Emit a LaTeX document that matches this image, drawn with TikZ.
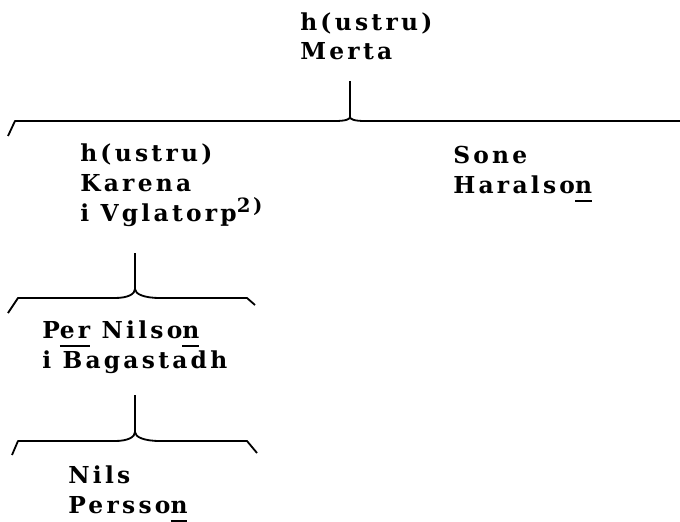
\documentclass[tikz,border=0pt]{standalone}
\usepackage{fontspec}
\setmainfont{DejaVu Serif}[LetterSpace=14]
\usepackage{tikz}

\newcommand{\undr}[1]{\setbox0\hbox{#1}\rlap{\rule[-6.2pt]{\wd0}{1.3pt}}#1}
\newcommand{\noteref}[1]{\raisebox{6pt}{\fontsize{14}{14}\selectfont #1}}

\tikzset{
  brace/.style={line width=1.3pt, line join=round},
  person/.style={anchor=base west, inner sep=0pt, align=left,
    font=\fontsize{16.6}{21.3}\selectfont\bfseries}
}

\begin{document}
\begin{tikzpicture}

\useasboundingbox (0,0) rectangle (17,-13.05);

% people (anchored at the baseline of the last line)
\node[person] (merta) at (7.5,-1.5) {h(ustru)\\Merta};
\node[person] (karena) at (2,-5.525) {h(ustru)\\Karena\\i Vglatorp\noteref{2)}};
\node[person] (sone) at (11.325,-4.825) {Sone\\Haralso\undr{n}};
\node[person] (per) at (1.05,-9.2) {P\undr{er} Nilso\undr{n}\\i Bagastadh};
\node[person] (nils) at (1.7,-12.825) {Nils\\Persso\undr{n}};

% first brace
\coordinate (stemA) at (8.75,-2.025);
\coordinate (forkA) at (8.75,-2.925);
\draw[brace] (stemA) -- (forkA);
\draw[brace] (0.2,-3.4) -- (0.375,-3.025) -- (8.375,-3.025)
  .. controls (8.65,-3.025) and (8.75,-2.98) .. (forkA)
  .. controls (8.75,-2.98) and (8.85,-3.025) .. (9.125,-3.025) -- (17,-3.025);

% second brace
\coordinate (stemB) at (3.375,-6.325);
\coordinate (forkB) at (3.375,-7.225);
\draw[brace] (stemB) -- (forkB);
\draw[brace] (0.2,-7.825) -- (0.45,-7.45) -- (2.875,-7.45)
  .. controls (3.2,-7.45) and (3.375,-7.35) .. (forkB)
  .. controls (3.375,-7.35) and (3.6,-7.45) .. (4,-7.45) -- (6.175,-7.45) -- (6.375,-7.625);

% third brace
\coordinate (stemC) at (3.375,-9.875);
\coordinate (forkC) at (3.375,-10.8);
\draw[brace] (stemC) -- (forkC);
\draw[brace] (0.3,-11.375) -- (0.45,-11.025) -- (2.875,-11.025)
  .. controls (3.2,-11.025) and (3.375,-10.925) .. (forkC)
  .. controls (3.375,-10.925) and (3.6,-11.025) .. (4,-11.025) -- (6.175,-11.025) -- (6.425,-11.325);

\end{tikzpicture}
\end{document}
